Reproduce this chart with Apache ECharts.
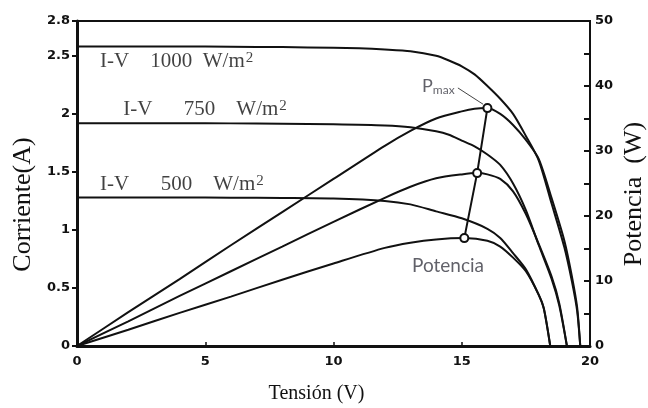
<!DOCTYPE html>
<html>
<head>
<meta charset="utf-8">
<script src="https://cdn.jsdelivr.net/npm/echarts@6/dist/echarts.min.js"></script>
<style>html,body{margin:0;padding:0;background:#fff;}#c{width:648px;height:408px;}</style>
</head>
<body>
<div id="c"></div>
<script>
// ---- data ----
const v1000 = [0, 2, 4, 6, 8, 10, 11, 12, 13, 14, 14.5, 15, 15.5, 16, 16.5, 17, 17.5, 18, 18.5, 19, 19.3, 19.5, 19.62];
const i1000 = [2.58, 2.58, 2.58, 2.578, 2.575, 2.57, 2.565, 2.555, 2.54, 2.50, 2.46, 2.41, 2.34, 2.24, 2.13, 2.0, 1.81, 1.6, 1.23, 0.85, 0.55, 0.3, 0];
const vp1000 = [0, 2, 4, 6, 8, 10, 12, 13, 14, 15, 15.5, 16, 16.5, 17, 17.5, 18, 18.5, 19, 19.3, 19.5, 19.62];
const p1000 = [0, 5.2, 10.3, 15.5, 20.6, 25.7, 30.8, 33.1, 35.0, 36.1, 36.5, 36.6, 35.7, 34.0, 31.7, 28.8, 22.8, 16.2, 10.6, 5.9, 0];

const v750 = [0, 2, 4, 6, 8, 10, 12, 13, 14, 14.5, 15, 15.5, 16, 16.5, 17, 17.5, 18, 18.5, 18.8, 19.1];
const i750 = [1.92, 1.92, 1.92, 1.918, 1.915, 1.91, 1.90, 1.885, 1.85, 1.82, 1.77, 1.72, 1.65, 1.56, 1.40, 1.17, 0.87, 0.58, 0.35, 0];
const vp750 = [0, 2, 4, 6, 8, 10, 12, 13, 14, 15, 15.6, 16, 16.5, 17, 17.5, 18, 18.5, 18.8, 19.1];
const p750 = [0, 3.8, 7.7, 11.5, 15.3, 19.1, 22.8, 24.5, 25.8, 26.4, 26.6, 26.4, 25.7, 23.8, 20.3, 15.7, 10.7, 6.6, 0];

const v500 = [0, 2, 4, 6, 8, 10, 12, 13, 14, 15, 16, 16.5, 17, 17.5, 18, 18.2, 18.45];
const i500 = [1.28, 1.28, 1.28, 1.278, 1.275, 1.27, 1.25, 1.22, 1.16, 1.10, 1.01, 0.93, 0.80, 0.66, 0.44, 0.32, 0];
const vp500 = [0, 2, 4, 6, 8, 10, 12, 13, 14, 15.1, 16, 16.5, 17, 17.5, 18, 18.2, 18.45];
const p500 = [0, 2.5, 5.1, 7.6, 10.2, 12.7, 15.1, 15.9, 16.4, 16.6, 16.2, 15.3, 13.6, 11.5, 7.9, 5.8, 0];

const pmaxV = [16.0, 15.6, 15.1];
const pmaxP = [36.6, 26.6, 16.6];

const ivLabels = ['{t|I-V    1000  W/m}{u|2}', '{t|I-V      750    W/m}{u|2}', '{t|I-V      500    W/m}{u|2}'];
const ivLabelV = [0.9, 1.8, 0.9];
const ivLabelI = [2.45, 2.04, 1.39];

const pLabels = ['{p|P}{s|max}', 'Potencia'];
const pLabelV = [13.45, 13.06];
const pLabelP = [40.0, 12.3];

const leaderV = [14.85, 15.83];
const leaderP = [39.7, 37.2];

const xTicks = {min: 0, max: 20, interval: 5};
const yLeftTicks = {min: 0, max: 2.8, interval: 0.5};
const yRightTicks = {min: 0, max: 50, interval: 5};

// ---- chart ----
const zip = (a, b) => a.map((x, k) => [x, b[k]]);
const ink = '#111';
const tickFont = {fontFamily: 'DejaVu Sans', fontWeight: 'bold', fontSize: 13, color: ink};
const serif = "'Liberation Serif', 'Times New Roman', serif";
const sans = "Lato, 'Open Sans', sans-serif";

function curve(name, v, y, axis) {
  return {
    name: name, type: 'line', yAxisIndex: axis, data: zip(v, y),
    showSymbol: false, smooth: 0.25,
    lineStyle: {color: ink, width: 2}, z: 3
  };
}

const chart = echarts.init(document.getElementById('c'), null, {renderer: 'canvas'});
chart.setOption({
  animation: false,
  backgroundColor: '#fff',
  grid: {left: 77, right: 58, top: 21, bottom: 62, containLabel: false, outerBoundsMode: 'none',
    show: true, borderColor: ink, borderWidth: 2},
  xAxis: {
    type: 'value', min: xTicks.min, max: xTicks.max, interval: xTicks.interval,
    name: 'Tensión (V)', nameLocation: 'middle', nameGap: 38,
    nameTextStyle: {fontFamily: serif, fontSize: 20, color: ink, padding: [0, 34, 0, 0]},
    axisLine: {show: true, lineStyle: {color: ink, width: 3}},
    axisTick: {show: true, inside: true, length: 4, lineStyle: {color: ink, width: 1.5}},
    axisLabel: Object.assign({margin: 9}, tickFont),
    splitLine: {show: false}
  },
  yAxis: [{
    type: 'value', min: yLeftTicks.min, max: yLeftTicks.max, interval: yLeftTicks.interval,
    position: 'left',
    name: 'Corriente(A)', nameLocation: 'middle', nameRotate: 90, nameGap: 40,
    nameTextStyle: {fontFamily: serif, fontSize: 26, color: ink, padding: [0, 42, 0, 0]},
    axisLine: {show: true, lineStyle: {color: ink, width: 3}},
    axisTick: {show: true, inside: false, length: 5, lineStyle: {color: ink, width: 2}},
    axisLabel: Object.assign({margin: 7}, tickFont),
    splitLine: {show: false}
  }, {
    type: 'value', min: yRightTicks.min, max: yRightTicks.max, interval: yRightTicks.interval,
    position: 'right',
    name: 'Potencia  (W)', nameLocation: 'middle', nameRotate: 90, nameGap: 31, nameMoveOverlap: false,
    nameTextStyle: {fontFamily: serif, fontSize: 26, color: ink, padding: [0, 21, 0, 0]},
    axisLine: {show: true, lineStyle: {color: ink, width: 2}},
    axisTick: {show: true, inside: true, length: 6, lineStyle: {color: ink, width: 2}},
    axisLabel: Object.assign({margin: 5, formatter: v => (v % 10 === 0 ? String(v) : '')}, tickFont),
    splitLine: {show: false}
  }],
  series: [
    curve('I-V 1000', v1000, i1000, 0),
    curve('I-V 750', v750, i750, 0),
    curve('I-V 500', v500, i500, 0),
    curve('P 1000', vp1000, p1000, 1),
    curve('P 750', vp750, p750, 1),
    curve('P 500', vp500, p500, 1),
    {
      name: 'Pmax', type: 'line', yAxisIndex: 1, data: zip(pmaxV, pmaxP),
      symbol: 'circle', symbolSize: 8, showSymbol: true,
      lineStyle: {color: ink, width: 2},
      itemStyle: {color: '#fff', borderColor: ink, borderWidth: 2}, z: 5
    },
    {
      name: 'leader', type: 'line', yAxisIndex: 1, data: zip(leaderV, leaderP),
      showSymbol: false, lineStyle: {color: '#444', width: 1}, z: 4
    },
    {
      name: 'ivText', type: 'scatter', yAxisIndex: 0, symbolSize: 0,
      data: ivLabels.map((t, k) => ({value: [ivLabelV[k], ivLabelI[k]], name: t})),
      label: {show: true, position: 'right', distance: 0, formatter: p => p.name,
        rich: {
          t: {fontFamily: serif, fontSize: 21, color: ink, lineHeight: 22},
          u: {fontFamily: serif, fontSize: 15, color: ink, verticalAlign: 'top', lineHeight: 22, padding: [0, 0, 6, 1]}
        }},
      z: 6, silent: true
    },
    {
      name: 'pText', type: 'scatter', yAxisIndex: 1, symbolSize: 0,
      data: pLabels.map((t, k) => ({value: [pLabelV[k], pLabelP[k]], name: t})),
      label: {show: true, position: 'right', distance: 0, formatter: p => p.name,
        fontFamily: sans, fontSize: 19, color: '#3a3a44',
        rich: {
          p: {fontFamily: sans, fontSize: 18, color: '#3a3a44', lineHeight: 20},
          s: {fontFamily: sans, fontSize: 12, color: '#3a3a44', verticalAlign: 'bottom', lineHeight: 20, padding: [6, 0, 0, 0]}
        }},
      z: 6, silent: true
    }
  ]
});
</script>
</body>
</html>
